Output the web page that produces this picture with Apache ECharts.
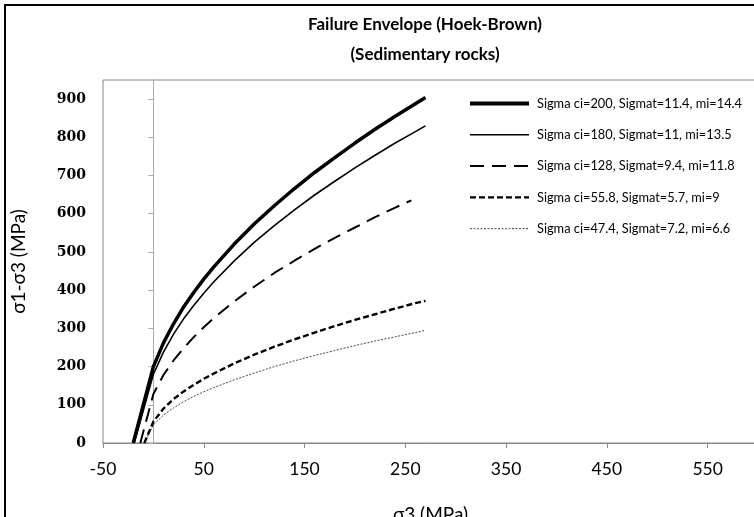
<!DOCTYPE html>
<html lang="en">
<head>
<meta charset="UTF-8">
<title>Failure Envelope (Hoek-Brown)</title>
<script src="https://cdn.jsdelivr.net/npm/echarts@6/dist/echarts.min.js"></script>
<style>
    html, body { margin: 0; padding: 0; background: #fff; overflow: hidden; }
    #chart { width: 754px; height: 517px; }
</style>
</head>
<body>
<div id="chart"></div>
<script>
    // sigma3 (MPa) and sigma1 - sigma3 (MPa)
    var x1 = [-20, 0, 10, 20, 30, 40, 50, 60, 80, 100, 120, 140, 160, 180, 200, 220, 240, 260, 270];
    var y1 = [0, 200, 262, 312, 356, 394, 429, 461, 520, 573, 621, 666, 708, 747, 785, 821, 855, 888, 904];
    var x2 = [-19, 0, 10, 20, 30, 40, 50, 60, 80, 100, 120, 140, 160, 180, 200, 220, 240, 260, 270];
    var y2 = [0, 180, 238, 285, 325, 360, 392, 422, 476, 525, 569, 610, 649, 685, 720, 753, 785, 815, 830];
    var x3 = [-13, 0, 10, 20, 30, 40, 50, 60, 80, 100, 120, 140, 160, 180, 200, 220, 240, 256];
    var y3 = [0, 128, 178, 216, 248, 277, 303, 327, 370, 409, 445, 477, 508, 537, 564, 591, 616, 635];
    var x4 = [-9, 0, 10, 20, 30, 40, 50, 60, 80, 100, 120, 140, 160, 180, 200, 220, 240, 260, 270];
    var y4 = [0, 56, 90, 115, 135, 152, 168, 182, 208, 231, 252, 271, 289, 306, 322, 337, 352, 366, 372];
    var x5 = [-9, 0, 10, 20, 30, 40, 50, 60, 80, 100, 120, 140, 160, 180, 200, 220, 240, 260, 270];
    var y5 = [0, 47, 73, 92, 108, 122, 134, 145, 165, 183, 200, 215, 229, 242, 255, 267, 278, 289, 295];

    var names = [
        'Sigma ci=200, Sigmat=11.4, mi=14.4',
        'Sigma ci=180, Sigmat=11, mi=13.5',
        'Sigma ci=128, Sigmat=9.4, mi=11.8',
        'Sigma ci=55.8, Sigmat=5.7, mi=9',
        'Sigma ci=47.4, Sigmat=7.2, mi=6.6'
    ];
    var xTicks = [-50, 50, 150, 250, 350, 450, 550];
    var yTicks = [0, 100, 200, 300, 400, 500, 600, 700, 800, 900];

    function pairs(xs, ys) {
        return xs.map(function (x, i) { return [x, ys[i]]; });
    }

    // line looks per series: width, dash, colour
    var looks = [
        { width: 3.5, type: 'solid', color: '#000' },
        { width: 1.6, type: 'solid', color: '#000' },
        { width: 2, type: [14, 8], color: '#000' },
        { width: 2.4, type: [6, 3], color: '#000' },
        { width: 1, type: [2, 1.5], color: '#444' }
    ];
    var allX = [x1, x2, x3, x4, x5];
    var allY = [y1, y2, y3, y4, y5];

    var series = names.map(function (n, i) {
        return {
            name: n,
            type: 'line',
            data: pairs(allX[i], allY[i]),
            symbol: 'none',
            smooth: false,
            lineStyle: looks[i],
            itemStyle: { color: looks[i].color },
            z: 10 - i
        };
    });

    var legendData = names.map(function (n, i) {
        return { name: n, lineStyle: { width: looks[i].width + (i === 0 ? 0.5 : 0), type: looks[i].type, color: looks[i].color } };
    });

    var chart = echarts.init(document.getElementById('chart'));
    chart.setOption({
        animation: false,
        backgroundColor: '#fff',
        title: {
            text: 'Failure Envelope (Hoek-Brown)\n(Sedimentary rocks)',
            left: 425,
            top: 10,
            padding: 0,
            textAlign: 'center',
            textStyle: {
                fontFamily: 'Lato',
                fontSize: 17,
                fontWeight: 'bold',
                color: '#000',
                lineHeight: 30
            }
        },
        graphic: [{
            type: 'rect',
            shape: { x: 5, y: 5, width: 900, height: 900 },
            style: { fill: null, stroke: '#000', lineWidth: 2 },
            silent: true
        }],
        legend: {
            orient: 'vertical',
            left: 468,
            top: 97,
            padding: 0,
            icon: 'inherit',
            itemWidth: 59,
            itemHeight: 14,
            itemGap: 18.3,
            itemStyle: { opacity: 0 },
            textStyle: {
                fontFamily: 'Lato',
                fontSize: 12.8,
                color: '#000',
                padding: [0, 0, 0, 3]
            },
            data: legendData
        },
        grid: {
            left: 103,
            top: 80,
            right: -4,
            bottom: 74,
            show: true,
            borderColor: '#888',
            borderWidth: 1,
            containLabel: false,
            outerBoundsMode: 'none'
        },
        xAxis: {
            type: 'value',
            min: -50,
            max: 600,
            name: 'σ3 (MPa)',
            nameLocation: 'middle',
            nameGap: 62,
            nameTextStyle: { fontFamily: 'Lato', fontSize: 19, color: '#000' },
            axisLine: { show: true, lineStyle: { color: '#888', width: 1 } },
            axisTick: { show: true, length: 5, lineStyle: { color: '#888' }, customValues: xTicks },
            axisLabel: { customValues: xTicks, margin: 17, fontFamily: 'Lato', fontSize: 17.5, color: '#000' },
            splitLine: { show: false }
        },
        yAxis: [{
            // labels at the left edge of the plot
            type: 'value',
            min: 0,
            max: 950,
            position: 'left',
            name: 'σ1-σ3 (MPa)',
            nameLocation: 'middle',
            nameRotate: 90,
            nameGap: 75,
            nameTextStyle: { fontFamily: 'Lato', fontSize: 19, color: '#000' },
            axisLine: { show: false, onZero: false },
            axisTick: { show: false },
            axisLabel: { customValues: yTicks, margin: 17, fontFamily: 'DejaVu Serif', fontWeight: 'bold', fontSize: 14, color: '#000' },
            splitLine: { show: false }
        }, {
            // vertical line through sigma3 = 0 with its ticks
            type: 'value',
            min: 0,
            max: 950,
            position: 'left',
            axisLine: { show: true, onZero: true, lineStyle: { color: '#aaa', width: 1 } },
            axisTick: { show: true, length: 5, lineStyle: { color: '#aaa' }, customValues: yTicks },
            axisLabel: { show: false },
            splitLine: { show: false }
        }],
        series: series
    });
</script>
</body>
</html>
